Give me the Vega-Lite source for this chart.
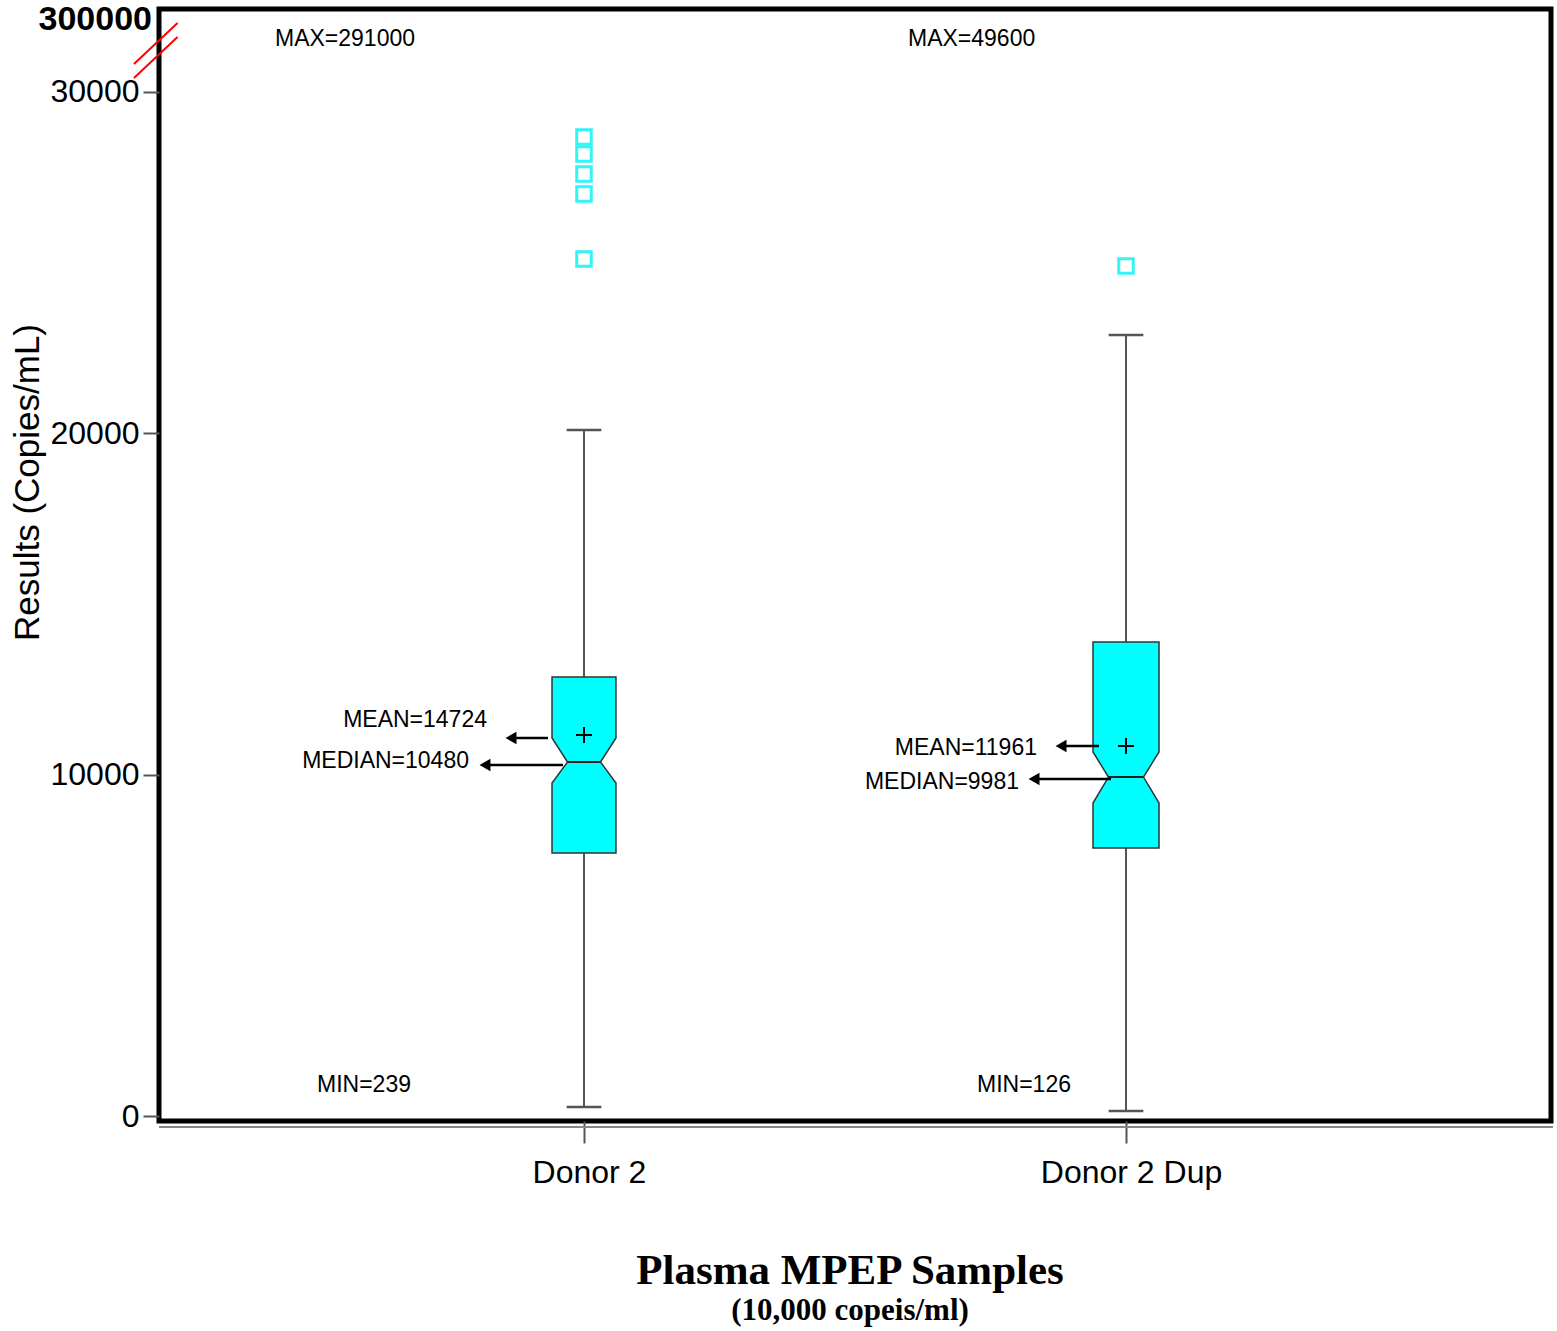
{
  "$schema": "https://vega.github.io/schema/vega-lite/v6.json",
  "width": 1392,
  "height": 1112,
  "autosize": {"type": "none"},
  "padding": {"left": 159, "top": 9, "right": 6, "bottom": 210},
  "background": "white",
  "config": {
    "view": {"stroke": "black", "strokeWidth": 5},
    "font": "Liberation Sans"
  },
  "title": {
    "text": "Plasma MPEP Samples",
    "subtitle": "(10,000 copeis/ml)",
    "orient": "bottom",
    "anchor": "middle",
    "dx": -5,
    "font": "Liberation Serif",
    "fontSize": 43,
    "fontWeight": "bold",
    "color": "black",
    "subtitleFont": "Liberation Serif",
    "subtitleFontSize": 31,
    "subtitleFontWeight": "bold",
    "subtitleColor": "black",
    "subtitlePadding": 3,
    "offset": 62
  },
  "datasets": {
    "stats": [
      {"group": "Donor 2", "pos": 1, "low": 264, "q1": 7703, "median": 10368, "q3": 12858, "high": 20092, "mean": 11158, "notchl": 0.9696, "notchr": 1.0304},
      {"group": "Donor 2 Dup", "pos": 2, "low": 146, "q1": 7849, "median": 9929, "q3": 13883, "high": 22874, "mean": 10837, "notchl": 1.9677, "notchr": 2.0323}
    ],
    "caps": [
      {"group": "Donor 2", "xl": 0.968, "xr": 1.032, "y": 264},
      {"group": "Donor 2", "xl": 0.968, "xr": 1.032, "y": 20092},
      {"group": "Donor 2 Dup", "xl": 1.968, "xr": 2.032, "y": 146},
      {"group": "Donor 2 Dup", "xl": 1.968, "xr": 2.032, "y": 22874}
    ],
    "notch": [
      {"group": "Donor 2", "y": 7703, "xl": 0.941, "xr": 1.059},
      {"group": "Donor 2", "y": 9753, "xl": 0.941, "xr": 1.059},
      {"group": "Donor 2", "y": 10368, "xl": 0.9696, "xr": 1.0304},
      {"group": "Donor 2", "y": 11071, "xl": 0.941, "xr": 1.059},
      {"group": "Donor 2", "y": 12858, "xl": 0.941, "xr": 1.059},
      {"group": "Donor 2 Dup", "y": 7849, "xl": 1.9391, "xr": 2.0609},
      {"group": "Donor 2 Dup", "y": 9167, "xl": 1.9391, "xr": 2.0609},
      {"group": "Donor 2 Dup", "y": 9929, "xl": 1.9677, "xr": 2.0323},
      {"group": "Donor 2 Dup", "y": 10661, "xl": 1.9391, "xr": 2.0609},
      {"group": "Donor 2 Dup", "y": 13883, "xl": 1.9391, "xr": 2.0609}
    ],
    "outliers": [
      {"group": "Donor 2", "pos": 1, "value": 28674},
      {"group": "Donor 2", "pos": 1, "value": 28175},
      {"group": "Donor 2", "pos": 1, "value": 27590},
      {"group": "Donor 2", "pos": 1, "value": 27004},
      {"group": "Donor 2", "pos": 1, "value": 25100},
      {"group": "Donor 2 Dup", "pos": 2, "value": 24895}
    ],
    "arrows": [
      {"x": 0.8653, "x2": 0.9336, "y": 11071},
      {"x": 0.8173, "x2": 0.9613, "y": 10280},
      {"x": 1.8801, "x2": 1.9502, "y": 10837},
      {"x": 1.8303, "x2": 1.9723, "y": 9870}
    ],
    "leftLabels": [
      {"text": "MAX=291000", "x": 0.4299, "y": 31544},
      {"text": "MAX=49600", "x": 1.5978, "y": 31544},
      {"text": "MIN=239", "x": 0.5074, "y": 908},
      {"text": "MIN=126", "x": 1.7251, "y": 908}
    ],
    "rightLabels": [
      {"text": "MEAN=14724", "x": 0.8210, "y": 11598},
      {"text": "MEDIAN=10480", "x": 0.7878, "y": 10397},
      {"text": "MEAN=11961", "x": 1.8358, "y": 10778},
      {"text": "MEDIAN=9981", "x": 1.8026, "y": 9782}
    ],
    "breakLabel": [
      {"text": "300000", "x": 0.2030, "y": 32101}
    ],
    "breaks": [
      {"x": 0.1697, "x2": 0.2501, "y": 30812, "y2": 32013},
      {"x": 0.1697, "x2": 0.2501, "y": 30402, "y2": 31602}
    ],
    "shadow": [
      {"x": 0.2159, "x2": 2.7878, "y": -322}
    ]
  },
  "layer": [
    {
      "data": {"name": "stats"},
      "mark": {"type": "rule", "color": "#555555", "strokeWidth": 2},
      "encoding": {
        "x": {
          "field": "pos", "type": "quantitative", "title": null,
          "scale": {"domain": [0.21587, 2.78413], "nice": false, "zero": false},
          "axis": {
            "values": [1, 2],
            "labelExpr": "datum.value == 1 ? 'Donor 2' : 'Donor 2 Dup'",
            "title": null,
            "domain": false,
            "grid": false,
            "tickSize": 22,
            "tickWidth": 2,
            "tickColor": "#555555",
            "labelFont": "Liberation Sans",
            "labelFontSize": 32,
            "labelColor": "black",
            "labelPadding": 14,
            "labelOffset": 5,
            "labelLimit": 0,
            "labelOverlap": false,
            "labelFlush": false
          }
        },
        "y": {
          "field": "low", "type": "quantitative", "title": "Results  (Copies/mL)",
          "scale": {"domain": [-146, 32423], "nice": false, "zero": false},
          "axis": {
            "values": [0, 10000, 20000, 30000],
            "format": "d",
            "title": "Results  (Copies/mL)",
            "titleFont": "Liberation Sans",
            "titleFontSize": 35,
            "titleFontWeight": "normal",
            "titleColor": "black",
            "titleAngle": -90,
            "titleX": -132,
            "titleY": 473,
            "titleAlign": "center",
            "titleBaseline": "middle",
            "domain": false,
            "grid": false,
            "tickSize": 16,
            "tickWidth": 2,
            "tickColor": "#555555",
            "labelFont": "Liberation Sans",
            "labelFontSize": 32,
            "labelColor": "black",
            "labelPadding": 4,
            "labelFlush": false
          }
        },
        "y2": {"field": "high"}
      }
    },
    {
      "data": {"name": "caps"},
      "mark": {"type": "rule", "color": "#555555", "strokeWidth": 2.5},
      "encoding": {
        "x": {"field": "xl", "type": "quantitative", "title": null},
        "x2": {"field": "xr"},
        "y": {"field": "y", "type": "quantitative", "title": "Results  (Copies/mL)"}
      }
    },
    {
      "data": {"name": "notch"},
      "mark": {"type": "area", "orient": "horizontal", "fill": "#00FFFF", "stroke": "#333333", "strokeWidth": 1.5, "opacity": 1, "interpolate": "linear"},
      "encoding": {
        "y": {"field": "y", "type": "quantitative", "title": "Results  (Copies/mL)"},
        "x": {"field": "xl", "type": "quantitative", "title": null},
        "x2": {"field": "xr"},
        "detail": {"field": "group", "type": "nominal"}
      }
    },
    {
      "data": {"name": "stats"},
      "mark": {"type": "rule", "color": "#222222", "strokeWidth": 2},
      "encoding": {
        "x": {"field": "notchl", "type": "quantitative", "title": null},
        "x2": {"field": "notchr"},
        "y": {"field": "median", "type": "quantitative", "title": "Results  (Copies/mL)"}
      }
    },
    {
      "data": {"name": "stats"},
      "mark": {"type": "point", "shape": "M-1,0L1,0M0,-1L0,1", "filled": false, "stroke": "black", "strokeWidth": 2, "size": 256, "opacity": 1},
      "encoding": {
        "x": {"field": "pos", "type": "quantitative", "title": null},
        "y": {"field": "mean", "type": "quantitative", "title": "Results  (Copies/mL)"}
      }
    },
    {
      "data": {"name": "outliers"},
      "mark": {"type": "point", "shape": "square", "filled": false, "stroke": "#33F5F5", "strokeWidth": 3, "size": 210, "opacity": 1},
      "encoding": {
        "x": {"field": "pos", "type": "quantitative", "title": null},
        "y": {"field": "value", "type": "quantitative", "title": "Results  (Copies/mL)"}
      }
    },
    {
      "data": {"name": "arrows"},
      "mark": {"type": "rule", "color": "black", "strokeWidth": 2.5},
      "encoding": {
        "x": {"field": "x", "type": "quantitative", "title": null},
        "x2": {"field": "x2"},
        "y": {"field": "y", "type": "quantitative", "title": "Results  (Copies/mL)"}
      }
    },
    {
      "data": {"name": "arrows"},
      "mark": {"type": "point", "shape": "triangle-left", "filled": true, "color": "black", "size": 160, "opacity": 1},
      "encoding": {
        "x": {"field": "x", "type": "quantitative", "title": null},
        "y": {"field": "y", "type": "quantitative", "title": "Results  (Copies/mL)"}
      }
    },
    {
      "data": {"name": "leftLabels"},
      "mark": {"type": "text", "align": "left", "baseline": "middle", "font": "Liberation Sans", "fontSize": 23, "color": "black"},
      "encoding": {
        "x": {"field": "x", "type": "quantitative", "title": null},
        "y": {"field": "y", "type": "quantitative", "title": "Results  (Copies/mL)"},
        "text": {"field": "text"}
      }
    },
    {
      "data": {"name": "rightLabels"},
      "mark": {"type": "text", "align": "right", "baseline": "middle", "font": "Liberation Sans", "fontSize": 23, "color": "black"},
      "encoding": {
        "x": {"field": "x", "type": "quantitative", "title": null},
        "y": {"field": "y", "type": "quantitative", "title": "Results  (Copies/mL)"},
        "text": {"field": "text"}
      }
    },
    {
      "data": {"name": "breakLabel"},
      "mark": {"type": "text", "align": "right", "baseline": "middle", "font": "Liberation Sans", "fontSize": 34, "fontWeight": "bold", "color": "black"},
      "encoding": {
        "x": {"field": "x", "type": "quantitative", "title": null},
        "y": {"field": "y", "type": "quantitative", "title": "Results  (Copies/mL)"},
        "text": {"field": "text"}
      }
    },
    {
      "data": {"name": "breaks"},
      "mark": {"type": "rule", "color": "#FF0000", "strokeWidth": 2},
      "encoding": {
        "x": {"field": "x", "type": "quantitative", "title": null},
        "x2": {"field": "x2"},
        "y": {"field": "y", "type": "quantitative", "title": "Results  (Copies/mL)"},
        "y2": {"field": "y2"}
      }
    },
    {
      "data": {"name": "shadow"},
      "mark": {"type": "rule", "color": "#888888", "strokeWidth": 2},
      "encoding": {
        "x": {"field": "x", "type": "quantitative", "title": null},
        "x2": {"field": "x2"},
        "y": {"field": "y", "type": "quantitative", "title": "Results  (Copies/mL)"}
      }
    }
  ]
}
